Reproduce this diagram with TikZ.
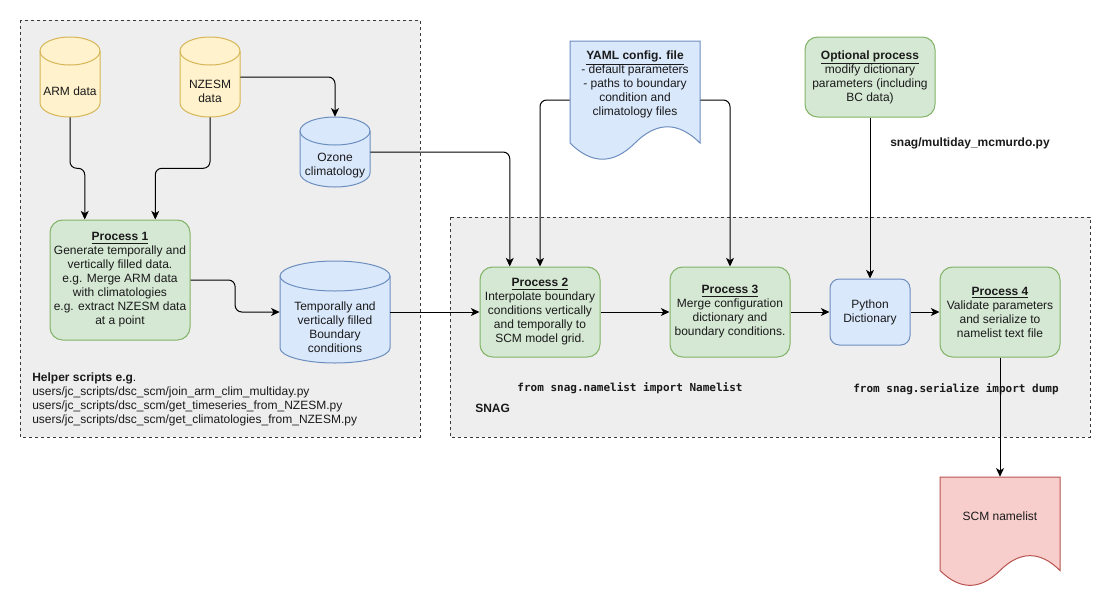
\documentclass[tikz,border=0pt]{standalone}
\usepackage{fontspec}
\setmainfont{Liberation Sans}
\newfontfamily\codefont{DejaVu Sans Mono}
\usetikzlibrary{arrows.meta,calc}
\definecolor{grpfill}{HTML}{EEEEEE}
\definecolor{grpline}{HTML}{36393D}
\definecolor{yfill}{HTML}{FFF2CC}
\definecolor{yline}{HTML}{D6B656}
\definecolor{bfill}{HTML}{DAE8FC}
\definecolor{bline}{HTML}{6C8EBF}
\definecolor{gfill}{HTML}{D5E8D4}
\definecolor{gline}{HTML}{82B366}
\definecolor{rfill}{HTML}{F8CECC}
\definecolor{rline}{HTML}{B85450}
\definecolor{txtc}{HTML}{1A1A1A}
\tikzset{
  lbl/.style={font=\fontsize{9}{10.5}\selectfont, align=center, inner sep=0pt, text=txtc},
  grp/.style={fill=grpfill, draw=grpline, line width=0.75pt, dash pattern=on 2.25pt off 2.25pt},
  ycyl/.style={fill=yfill, draw=yline, line width=0.75pt},
  bcyl/.style={fill=bfill, draw=bline, line width=0.75pt},
  proc/.style={lbl, draw=gline, fill=gfill, line width=0.75pt, rounded corners=9.5pt},
  bluebox/.style={lbl, draw=bline, fill=bfill, line width=0.75pt, rounded corners=7pt},
  bluedoc/.style={fill=bfill, draw=bline, line width=0.75pt},
  reddoc/.style={fill=rfill, draw=rline, line width=0.75pt},
  conn/.style={draw=black, line width=0.75pt, rounded corners=5pt,
    -{Stealth[length=6.5pt,width=6pt,inset=1.8pt]}},
  code/.style={font=\codefont\bfseries\fontsize{8.25}{10}\selectfont, inner sep=0pt, text=txtc},
  boldlbl/.style={font=\fontsize{9}{10.5}\selectfont\bfseries, inner sep=0pt, text=txtc},
}
% name, x1, y1, x2, y2, ry, style, text
\newcommand\dbcyl[8]{%
  \pgfmathsetmacro\cylcx{(#2+#4)/2}%
  \pgfmathsetmacro\cylkx{0.5523*(#4-#2)/2}%
  \pgfmathsetmacro\cylky{0.5523*#6}%
  \path[#7] (#2,#3+#6) -- (#2,#5-#6)
    .. controls (#2,#5-#6+\cylky) and (\cylcx-\cylkx,#5) .. (\cylcx,#5)
    .. controls (\cylcx+\cylkx,#5) and (#4,#5-#6+\cylky) .. (#4,#5-#6)
    -- (#4,#3+#6)
    .. controls (#4,#3+#6-\cylky) and (\cylcx+\cylkx,#3) .. (\cylcx,#3)
    .. controls (\cylcx-\cylkx,#3) and (#2,#3+#6-\cylky) .. (#2,#3+#6) -- cycle;
  \path[#7,fill=none] (#2,#3+#6)
    .. controls (#2,#3+#6+\cylky) and (\cylcx-\cylkx,#3+2*#6) .. (\cylcx,#3+2*#6)
    .. controls (\cylcx+\cylkx,#3+2*#6) and (#4,#3+#6+\cylky) .. (#4,#3+#6);
  \node[inner sep=0pt,minimum width={(#4-#2)*0.75pt},minimum height={(#5-#3)*0.75pt}] (#1) at (\cylcx,{(#3+#5)/2}) {};
  \node[lbl] (#1-t) at (\cylcx,{(#3+2*#6+#5)/2}) {#8};
}
\begin{document}
\begin{tikzpicture}[x=0.75pt,y=-0.75pt]
\useasboundingbox (0,0) rectangle (1111,608);
\fill[white] (0,0) rectangle (1111,608);

% groups
\path[grp] (20,20) rectangle (420,437);
\path[grp] (450,217) rectangle (1090,437);

% cylinders
\dbcyl{arm}{40}{37}{100}{117}{14}{ycyl}{ARM data}
\dbcyl{nzesm}{180}{37}{240}{117}{14}{ycyl}{NZESM\\data}
\dbcyl{ozone}{300}{117}{370}{187}{14}{bcyl}{Ozone\\climatology}
\dbcyl{bc}{280}{261}{390}{363}{15}{bcyl}{Temporally and\\vertically filled\\Boundary\\conditions}

% processes
\node[proc, minimum width=105pt, minimum height=90pt] (p1) at (120,280)
  {\underline{\textbf{Process 1}}\\Generate temporally and\\vertically filled data.\\e.g. Merge ARM data\\with climatologies\\e.g. extract NZESM data\\at a point};
\node[proc, minimum width=90pt, minimum height=67.5pt] (p2) at (540,312)
  {\underline{\textbf{Process 2}}\\Interpolate boundary\\conditions vertically\\and temporally to\\SCM model grid.};
\node[proc, minimum width=90pt, minimum height=67.5pt] (p3) at (730,312)
  {\underline{\textbf{Process 3}}\\Merge configuration\\dictionary and\\boundary conditions.};
\node[proc, minimum width=90pt, minimum height=67.5pt] (p4) at (1000,312)
  {\underline{\textbf{Process 4}}\\Validate parameters\\and serialize to\\namelist text file};
\node[proc, minimum width=97.5pt, minimum height=60pt] (opt) at (870,77)
  {\underline{\textbf{Optional process}}\\modify dictionary\\parameters (including\\BC data)};
\node[bluebox, minimum width=60pt, minimum height=49.5pt] (py) at (870,312)
  {Python\\Dictionary};

% YAML document
\path[bluedoc] (570,41) -- (700,41) -- (700,143)
  .. controls (678.3,121.4) and (656.7,121.4) .. (635,143)
  .. controls (613.3,164.6) and (591.7,164.6) .. (570,143) -- cycle;
\node[inner sep=0pt, minimum width=97.5pt, minimum height=88.5pt] (yaml) at (635,100) {};
\node[lbl] (yaml-t) at (635,84.5)
  {\underline{\textbf{YAML config. file}}\\- default parameters\\- paths to boundary\\condition and\\climatology files};

% SCM namelist document
\path[reddoc] (940,477) -- (1060,477) -- (1060,570.5)
  .. controls (1040,550.7) and (1020,550.7) .. (1000,570.5)
  .. controls (980,590.3) and (960,590.3) .. (940,570.5) -- cycle;
\node[inner sep=0pt, minimum width=90pt, minimum height=82.5pt] (scm) at (1000,532) {};
\node[lbl] (scm-t) at (1000,516.7) {SCM namelist};

% labels
\node[lbl, anchor=west, align=left] (helper) at (32,399)
  {\textbf{Helper scripts e.g}.\\users/jc\_scripts/dsc\_scm/join\_arm\_clim\_multiday.py\\users/jc\_scripts/dsc\_scm/get\_timeseries\_from\_NZESM.py\\users/jc\_scripts/dsc\_scm/get\_climatologies\_from\_NZESM.py};
\node[boldlbl, anchor=west] (snag) at (475,408) {SNAG};
\node[boldlbl] (mcm) at (970,143) {snag/multiday\_mcmurdo.py};
\node[code] (nl) at (630,388) {from snag.namelist import Namelist};
\node[code] (dump) at (956,389) {from snag.serialize import dump};

% connectors
\coordinate (p1in1) at ($(p1.north west)!0.25!(p1.north east)$);
\coordinate (p1in2) at ($(p1.north west)!0.75!(p1.north east)$);
\coordinate (p2in1) at ($(p2.north west)!0.25!(p2.north east)$);
\draw[conn] (arm.south) -- ++(0,51) -| (p1in1);
\draw[conn] (nzesm.south) -- ++(0,51) -| (p1in2);
\draw[conn] (nzesm.east) -| (ozone.north);
\draw[conn] (p1.east) -| ($(p1.east)!.5!(bc.west)$) |- (bc.west);
\draw[conn] (ozone.east) -| (p2in1);
\draw[conn] (bc.east) -- (p2.west);
\draw[conn] (yaml.west) -| (p2.north);
\draw[conn] (yaml.east) -| (p3.north);
\draw[conn] (opt.south) -- (py.north);
\draw[conn] (p2.east) -- (p3.west);
\draw[conn] (p3.east) -- (py.west);
\draw[conn] (py.east) -- (p4.west);
\draw[conn] (p4.south) -- (scm.north);
\end{tikzpicture}
\end{document}
